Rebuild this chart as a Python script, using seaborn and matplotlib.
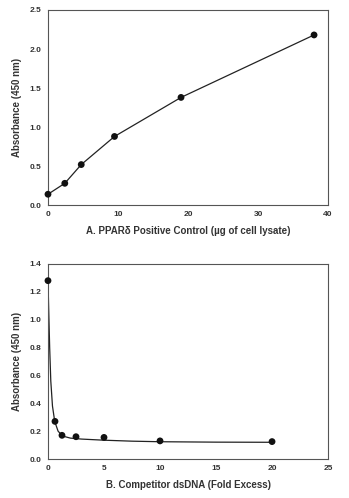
import matplotlib
matplotlib.use("Agg")
import matplotlib.pyplot as plt
import seaborn as sns
import pandas as pd
from matplotlib.ticker import MultipleLocator

sns.set_theme(style="white")
plt.rcParams['font.family'] = ['Liberation Sans', 'DejaVu Sans']

# Panel A data
a_x = [0, 2.4, 4.75, 9.5, 19, 38]
a_y = [0.14, 0.28, 0.52, 0.88, 1.38, 2.18]

# Panel B data
b_x = [0, 0.625, 1.25, 2.5, 5, 10, 20]
b_y = [1.28, 0.27, 0.17, 0.16, 0.155, 0.13, 0.125]

# Panel B fitted curve
fit_x = [0, 0.04, 0.08, 0.15, 0.25, 0.4, 0.6, 0.9, 1.3, 2, 3, 5, 7.5, 10, 15, 20]
fit_y = [1.28, 1.15, 1.02, 0.8, 0.56, 0.38, 0.27, 0.2, 0.165, 0.15, 0.143, 0.135, 0.128, 0.124, 0.121, 0.12]

txt = '#333333'
spine = '#555555'

fig = plt.figure(figsize=(3.49, 4.98), dpi=100)
ax1 = fig.add_axes([0.1375, 0.588, 0.8025, 0.392])
ax2 = fig.add_axes([0.1375, 0.0783, 0.8025, 0.3917])

dfa = pd.DataFrame({'x': a_x, 'y': a_y})
sns.lineplot(data=dfa, x='x', y='y', ax=ax1, color='#222222', lw=0.9)
sns.scatterplot(data=dfa, x='x', y='y', ax=ax1, color='#111111', s=24, edgecolor='none', zorder=3, clip_on=False)

dfb = pd.DataFrame({'x': b_x, 'y': b_y})
dff = pd.DataFrame({'x': fit_x, 'y': fit_y})
sns.lineplot(data=dff, x='x', y='y', ax=ax2, color='#222222', lw=0.9, sort=False)
sns.scatterplot(data=dfb, x='x', y='y', ax=ax2, color='#111111', s=24, edgecolor='none', zorder=3, clip_on=False)

ax1.set_xlim(0, 40)
ax1.set_ylim(0, 2.5)
ax1.xaxis.set_major_locator(MultipleLocator(10))
ax1.xaxis.set_minor_locator(MultipleLocator(5))
ax1.yaxis.set_major_locator(MultipleLocator(0.5))
ax1.yaxis.set_minor_locator(MultipleLocator(0.25))
ax1.set_yticks([0, 0.5, 1.0, 1.5, 2.0, 2.5])
ax1.set_yticklabels(['0.0', '0.5', '1.0', '1.5', '2.0', '2.5'])

ax2.set_xlim(0, 25)
ax2.set_ylim(0, 1.4)
ax2.xaxis.set_major_locator(MultipleLocator(5))
ax2.xaxis.set_minor_locator(MultipleLocator(2.5))
ax2.yaxis.set_major_locator(MultipleLocator(0.2))
ax2.yaxis.set_minor_locator(MultipleLocator(0.1))
ax2.set_yticks([0, 0.2, 0.4, 0.6, 0.8, 1.0, 1.2, 1.4])
ax2.set_yticklabels(['0.0', '0.2', '0.4', '0.6', '0.8', '1.0', '1.2', '1.4'])

for ax in (ax1, ax2):
    for s in ax.spines.values():
        s.set_color(spine)
        s.set_linewidth(0.8)
    ax.tick_params(which='both', colors=spine, labelcolor=txt, labelsize=6, width=0.6)
    ax.tick_params(axis='y', which='major', direction='out', length=3, pad=2)
    ax.tick_params(axis='y', which='minor', direction='out', length=1.8)
    ax.tick_params(axis='x', which='major', direction='in', length=3, pad=4)
    ax.tick_params(axis='x', which='minor', direction='in', length=2)
    for lab in ax.get_xticklabels() + ax.get_yticklabels():
        lab.set_fontweight('bold')
    ax.set_ylabel('Absorbance (450 nm)', fontsize=7, fontweight='bold', color=txt, labelpad=5)

ax1.set_xlabel('A. PPARδ Positive Control (µg of cell lysate)', fontsize=7, fontweight='bold', color=txt, labelpad=6)
ax2.set_xlabel('B. Competitor dsDNA (Fold Excess)', fontsize=7, fontweight='bold', color=txt, labelpad=6)

fig.savefig('out.png', dpi=100, facecolor='white')
